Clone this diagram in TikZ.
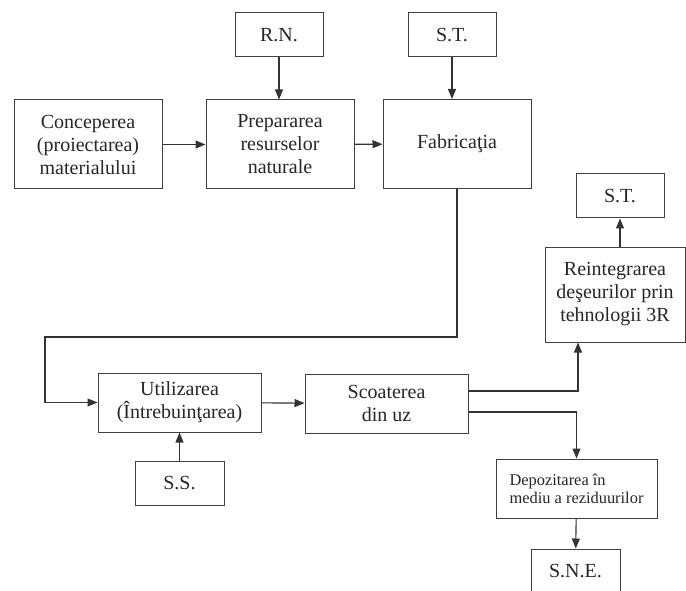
\documentclass[tikz,border=0pt]{standalone}
\usepackage{fontspec}
\IfFontExistsTF{LiberationSerif-Regular.ttf}
    {\setmainfont{LiberationSerif-Regular.ttf}}
    {\setmainfont{Liberation Serif}}
\usetikzlibrary{positioning, arrows.meta}

\begin{document}
\begin{tikzpicture}[x=1pt, y=-1pt,
        box/.style={draw=black!75, line width=1pt, inner sep=0pt, align=center,
            text=black!85, font=\fontsize{20}{23}\selectfont},
        small/.style={box, minimum width=88pt, minimum height=44pt},
        big/.style={box, minimum width=148pt, minimum height=89pt},
        wide/.style={box, minimum width=163pt, minimum height=59pt},
        flow/.style={draw=black!80, line width=1.1pt},
        >={Triangle[length=10pt, width=8pt]}]
                \useasboundingbox (0,0) rectangle (686,591);

                \node [big] (Conc) at (88, 144.5) {Conceperea\\(proiectarea)\\materialului};
                \node [big] (Prep) at (280, 144.5) {Prepararea\\resurselor\\naturale};
                \node [big] (Fab) at (457, 144) {Fabricaţia};
                \node [small] (RN) at (279, 35) {R.N.};
                \node [small] (STa) at (452, 35) {S.T.};
                \node [small] (STb) at (620, 196) {S.T.};
                \node [box, minimum width=140pt, minimum height=95pt] (Reint) at (615, 294.5) {Reintegrarea\\deşeurilor prin\\tehnologii 3R};
                \node [wide] (Util) at (179.5, 402.5) {Utilizarea\\(Întrebuinţarea)};
                \node [wide] (Scoat) at (386.5, 403.5) {Scoaterea\\din uz};
                \node [small, minimum width=89pt] (SS) at (179.5, 483) {S.S.};
                \node [box, minimum width=161pt, minimum height=59pt, align=left,
                    font=\fontsize{16.4}{18}\selectfont] (Dep) at (576.5, 488.5) {Depozitarea în\\mediu a reziduurilor};
                \node [small, minimum width=89pt] (SNE) at (575.5, 571) {S.N.E.};

                \draw [flow, ->] (Conc) -- (Prep);
                \draw [flow, ->] (Prep) -- (Fab);
                \draw [flow, ->] (RN) -- (Prep.north -| RN.south);
                \draw [flow, ->] (STa) -- (Fab.north -| STa.south);
                \draw [flow, ->] (Fab.south) |- (45, 337) |- (Util.west);
                \draw [flow, ->] (Util) -- (Scoat);
                \draw [flow, ->] (SS) -- (Util);
                \draw [flow, ->] ([yshift=12.5pt]Scoat.east) -| ([xshift=-37pt]Reint.south);
                \draw [flow, ->] ([yshift=-8.5pt]Scoat.east) -| (Dep.north);
                \draw [flow, ->] (STb.south |- Reint.north) -- (STb.south);
                \draw [flow, ->] (Dep) -- (SNE);
            \end{tikzpicture}
\end{document}
